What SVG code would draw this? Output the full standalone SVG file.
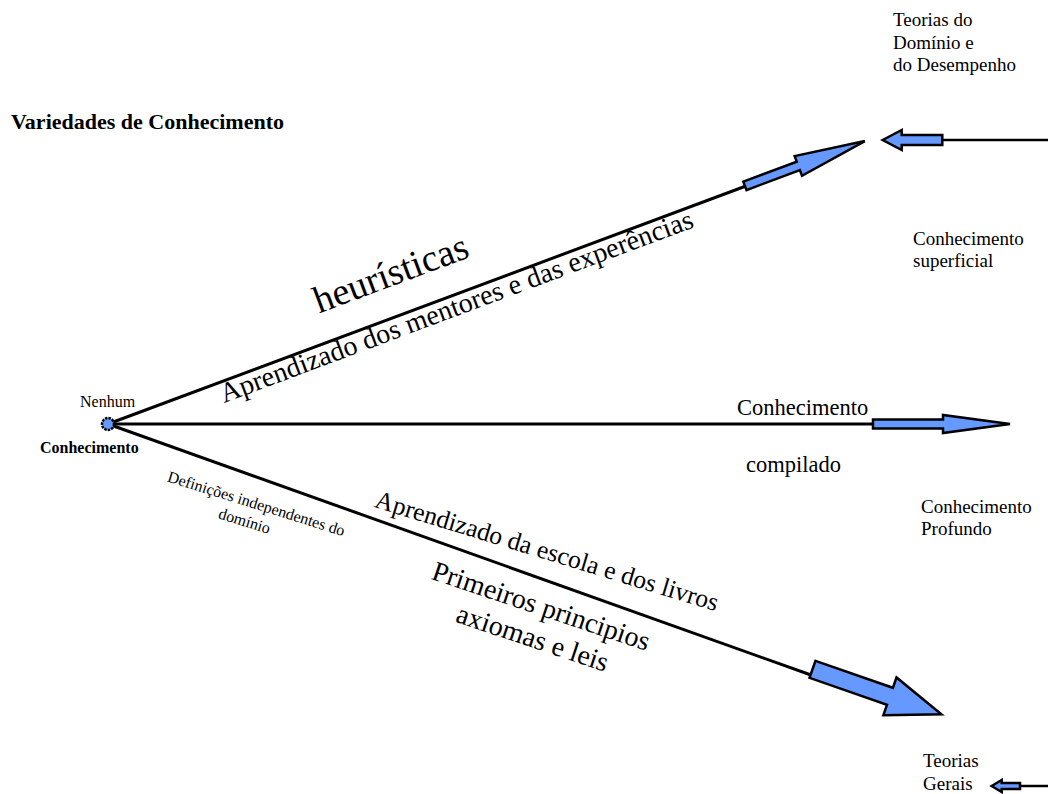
<svg xmlns="http://www.w3.org/2000/svg" width="1048" height="794" viewBox="0 0 1048 794">
<style>
.arr{fill:#6699FF;stroke:#000;stroke-width:2.5;stroke-linejoin:miter}
.ln{stroke:#000;stroke-width:3;fill:none}
.lnt{stroke:#000;stroke-width:2.5;fill:none}
</style>
<rect width="1048" height="794" fill="#fff"/>
<g id="title"><text font-family="Liberation Serif" x="11" y="129" font-size="22" font-weight="bold">Variedades de Conhecimento</text></g>

<g id="connectors">
<line class="ln" x1="108" y1="424" x2="746" y2="186"/>
<line class="ln" x1="108" y1="424" x2="874" y2="424"/>
<line class="ln" x1="108" y1="424" x2="811" y2="675"/>
<line class="lnt" x1="942" y1="140" x2="1048" y2="140"/>
<line class="lnt" x1="1020" y1="786" x2="1048" y2="786"/>
<g transform="translate(108,424) rotate(-20.5)">
<polygon class="arr" points="680,-4.5 737,-4.5 737,-10.5 808,0 737,10.5 737,4.5 680,4.5"/>
</g>
<polygon class="arr" points="873,419.5 943,419.5 943,415 1010,424 943,433 943,428.5 873,428.5"/>
<g transform="translate(108,424) rotate(19.2)">
<polygon class="arr" points="746,-9 828,-9 828,-20 882.5,0 828,20 828,9 746,9"/>
</g>
<polygon class="arr" points="882.7,140 901.7,130 901.7,135 942.3,135 942.3,145 901.7,145 901.7,150"/>
<polygon class="arr" points="991.7,786 1001.7,780 1001.7,783 1020,783 1020,789 1001.7,789 1001.7,792"/>
</g>

<g id="origin">
<circle cx="108" cy="424" r="6" fill="#6699FF" stroke="#000" stroke-width="2.5" stroke-dasharray="2.5,1"/>
<text font-family="Liberation Serif" x="80" y="406.5" font-size="16">Nenhum</text>
<text font-family="Liberation Serif" x="40" y="452.5" font-size="16" font-weight="bold">Conhecimento</text>
</g>

<g id="upper-branch">
<text font-family="Liberation Serif" transform="translate(395,285) rotate(-20.5)" font-size="38" text-anchor="middle">heurísticas</text>
<text font-family="Liberation Serif" transform="translate(224,403) rotate(-20.5)" font-size="28">Aprendizado dos mentores e das experências</text>
</g>

<g id="middle-branch">
<text font-family="Liberation Serif" x="737" y="415" font-size="22.5">Conhecimento</text>
<text font-family="Liberation Serif" x="746" y="471.5" font-size="22.5">compilado</text>
</g>

<g id="lower-branch">
<g transform="translate(254.7,508.7) rotate(17.3)">
<text font-family="Liberation Serif" font-size="16" text-anchor="middle" x="0" y="0">Definições independentes do</text>
<text font-family="Liberation Serif" font-size="16" text-anchor="middle" x="-6" y="20">domínio</text>
</g>
<text font-family="Liberation Serif" transform="translate(544.5,559) rotate(17)" font-size="25.6" text-anchor="middle">Aprendizado da escola e dos livros</text>
<g transform="translate(538.3,614.8) rotate(18.5)">
<text font-family="Liberation Serif" font-size="28" text-anchor="middle" x="0" y="0">Primeiros principios</text>
<text font-family="Liberation Serif" font-size="28" text-anchor="middle" x="2" y="33">axiomas e leis</text>
</g>
</g>

<g id="teorias-dominio">
<text font-family="Liberation Serif" x="893" y="26" font-size="19">Teorias do</text>
<text font-family="Liberation Serif" x="893" y="48.5" font-size="19">Domínio e</text>
<text font-family="Liberation Serif" x="893" y="71" font-size="19">do Desempenho</text>
</g>
<g id="superficial">
<text font-family="Liberation Serif" x="913" y="245" font-size="19">Conhecimento</text>
<text font-family="Liberation Serif" x="913" y="267" font-size="19">superficial</text>
</g>
<g id="profundo">
<text font-family="Liberation Serif" x="921" y="513" font-size="19">Conhecimento</text>
<text font-family="Liberation Serif" x="921" y="535" font-size="19">Profundo</text>
</g>
<g id="teorias-gerais">
<text font-family="Liberation Serif" x="923" y="767" font-size="19">Teorias</text>
<text font-family="Liberation Serif" x="923" y="790" font-size="19">Gerais</text>
</g>
</svg>
